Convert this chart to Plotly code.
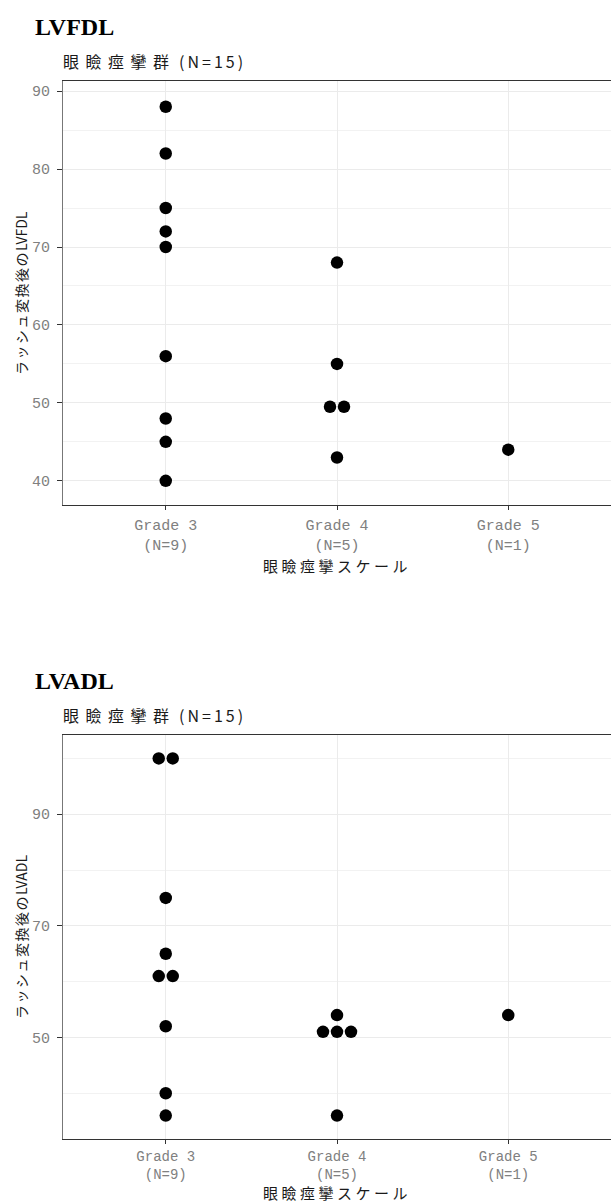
import plotly.graph_objects as go

# ---------------- data ----------------
grades = ["Grade 3", "Grade 4", "Grade 5"]
n_labels = ["(N=9)", "(N=5)", "(N=1)"]

lvfdl_g3 = [88, 82, 75, 72, 70, 56, 48, 45, 40]
lvfdl_g4 = [68, 55, 49.5, 49.5, 43]
lvfdl_g5 = [44]

lvadl_g3 = [100, 100, 75, 65, 61, 61, 52, 40, 36]
lvadl_g4 = [54, 51, 51, 51, 36]
lvadl_g5 = [54]

panel_titles = ["LVFDL", "LVADL"]
subtitle_main = "眼瞼痙攣群"
subtitle_n = "(N=15)"
y_title_prefix = "ラッシュ変換後の"
y_title_vars = ["LVFDL", "LVADL"]
x_title = "眼瞼痙攣スケール"

# ---------------- layout geometry (pixels) ----------------
W, H = 611, 1203
PLOT_L, PLOT_R = 63, 611
panels = [
    dict(top=81, bottom=505, xtitle_gap=60, xtick_size=15, xtick_standoff=2,
         yrange=[36.9, 91.3], ticks=[40, 50, 60, 70, 80, 90],
         minor=[45, 55, 65, 75, 85], groups=[lvfdl_g3, lvfdl_g4, lvfdl_g5]),
    dict(top=735, bottom=1139, xtitle_gap=53, xtick_size=14, xtick_standoff=0,
         yrange=[31.8, 104.2], ticks=[50, 70, 90],
         minor=[40, 60, 80, 100], groups=[lvadl_g3, lvadl_g4, lvadl_g5]),
]
XRANGE = [-0.6, 2.6]
px_per_unit = (PLOT_R - PLOT_L) / (XRANGE[1] - XRANGE[0])
DOT_PX = 14.0
step = DOT_PX / px_per_unit


def px_x(p):
    return p / W


def px_y(p):
    return 1 - p / H


def spaced(text, px):
    return f'<span style="letter-spacing:{px}px">{text}</span>'


def stack(values, center):
    xs, ys = [], []
    counts = {}
    for v in values:
        counts[v] = counts.get(v, 0) + 1
    for v, n in counts.items():
        for k in range(n):
            xs.append(center + (k - (n - 1) / 2) * step)
            ys.append(v)
    return xs, ys


fig = go.Figure()
ticktext = [f"{g}<br>{n}" for g, n in zip(grades, n_labels)]
TICK_FAMILY, TICK_COLOR = "Liberation Mono", "#808080"
annotations = []

for i, p in enumerate(panels):
    xa = "x" if i == 0 else f"x{i+1}"
    ya = "y" if i == 0 else f"y{i+1}"
    for gi, vals in enumerate(p["groups"]):
        xs, ys = stack(vals, gi)
        fig.add_trace(go.Scatter(
            x=xs, y=ys, mode="markers", xaxis=xa, yaxis=ya,
            marker=dict(size=12.5, color="black", line=dict(width=0)),
            showlegend=False, hoverinfo="skip"))

    ydom = [px_y(p["bottom"]), px_y(p["top"])]
    xkey = "xaxis" if i == 0 else f"xaxis{i+1}"
    ykey = "yaxis" if i == 0 else f"yaxis{i+1}"
    fig.update_layout(**{
        xkey: dict(domain=[px_x(PLOT_L), 1], anchor=ya, range=XRANGE,
                   tickvals=[0, 1, 2], ticktext=ticktext,
                   showgrid=True, gridcolor="#EBEBEB", gridwidth=1.2,
                   zeroline=False, showline=True, linecolor="#333333",
                   linewidth=1, mirror=True, ticks="outside", ticklen=4,
                   tickcolor="#333333", tickwidth=1,
                   tickfont=dict(family=TICK_FAMILY, size=p["xtick_size"],
                                 color=TICK_COLOR),
                   ticklabelstandoff=p["xtick_standoff"]),
        ykey: dict(domain=ydom, anchor=xa, range=p["yrange"],
                   tickvals=p["ticks"], showgrid=True, gridcolor="#EBEBEB",
                   gridwidth=1.2, zeroline=False, showline=True,
                   linecolor="#777777", linewidth=1.2, mirror=True,
                   ticks="outside", ticklen=5, tickcolor="#333333",
                   tickwidth=1,
                   tickfont=dict(family=TICK_FAMILY, size=15, color=TICK_COLOR),
                   ticklabelstandoff=4,
                   minor=dict(tickvals=p["minor"], showgrid=True,
                              gridcolor="#F2F2F2", gridwidth=0.7, ticks="")),
    })

    # panel title
    annotations.append(dict(
        text=f"<b>{panel_titles[i]}</b>", x=px_x(33), y=px_y(p["top"] - 54),
        xref="paper", yref="paper", xanchor="left", yanchor="middle",
        showarrow=False,
        font=dict(family="Liberation Serif", size=24, color="black")))
    # subtitle
    annotations.append(dict(
        text=spaced(subtitle_main, 6.5) + " " + spaced(subtitle_n, 3),
        x=px_x(61), y=px_y(p["top"] - 20),
        xref="paper", yref="paper", xanchor="left", yanchor="middle",
        showarrow=False,
        font=dict(family="Noto Sans CJK JP", size=16, color="#1a1a1a")))
    # y title
    annotations.append(dict(
        text=spaced(y_title_prefix, 1.5) + y_title_vars[i],
        x=px_x(21), y=px_y((p["top"] + p["bottom"]) / 2),
        xref="paper", yref="paper", xanchor="center", yanchor="middle",
        textangle=-90, showarrow=False,
        font=dict(family="Noto Sans CJK JP", size=14, color="#1a1a1a")))
    # x title
    annotations.append(dict(
        text=spaced(x_title, 3.5), x=px_x((PLOT_L + PLOT_R) / 2),
        y=px_y(p["bottom"] + p["xtitle_gap"]),
        xref="paper", yref="paper", xanchor="center", yanchor="middle",
        showarrow=False,
        font=dict(family="Noto Sans CJK JP", size=15, color="#1a1a1a")))

fig.update_layout(width=W, height=H, margin=dict(l=0, r=0, t=0, b=0),
                  paper_bgcolor="white", plot_bgcolor="white",
                  annotations=annotations)
fig.write_html("out.html", config={"displayModeBar": False},
               post_script="document.body.style.margin='0';")
